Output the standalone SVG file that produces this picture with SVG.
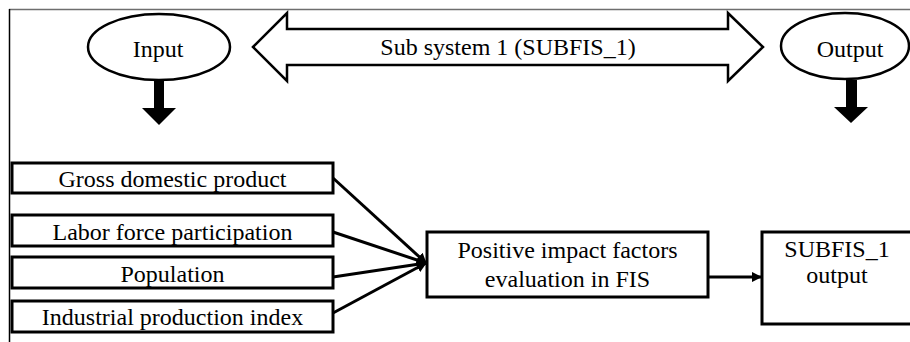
<svg xmlns="http://www.w3.org/2000/svg" width="910" height="342" viewBox="0 0 910 342">
  <style>
    text { font-family: "Liberation Serif", "DejaVu Serif", serif; font-size: 24px; fill: #000; text-anchor: middle; }
    .box { fill: #fff; stroke: #000; stroke-width: 3; }
    .oval { fill: #fff; stroke: #000; stroke-width: 2.5; }
    .link { fill: none; stroke: #000; stroke-width: 3; }
  </style>
  <defs>
    <marker id="head" viewBox="0 0 10 10" refX="9" refY="5" markerWidth="3.5" markerHeight="3.5" orient="auto" markerUnits="strokeWidth">
      <path d="M0,0 L10,5 L0,10 Z" fill="#000"/>
    </marker>
  </defs>

  <rect width="910" height="342" fill="#fff"/>

  <!-- frame -->
  <g id="frame">
    <line x1="9" y1="9.5" x2="910" y2="9.5" stroke="#6e6e6e" stroke-width="1.5"/>
    <line x1="9.5" y1="9" x2="9.5" y2="342" stroke="#000" stroke-width="1.5"/>
  </g>

  <!-- input oval with down arrow -->
  <g id="input">
    <path d="M154,80 H164 V108 H176 L159,125 L142,108 H154 Z" fill="#000"/>
    <ellipse class="oval" cx="159" cy="47" rx="71" ry="33"/>
    <text x="158" y="57" font-family="Liberation Serif, serif">Input</text>
  </g>

  <!-- output oval with down arrow -->
  <g id="output">
    <path d="M846,80 H857 V107 H868 L851,123 L834,107 H846 Z" fill="#000"/>
    <ellipse class="oval" cx="845" cy="46" rx="64" ry="33"/>
    <text x="850" y="57" font-family="Liberation Serif, serif">Output</text>
  </g>

  <!-- sub system double arrow -->
  <g id="subsystem">
    <polygon class="oval" points="253,47 287,13 287,29 728,29 728,13 763,47 728,81 728,65 287,65 287,81"/>
    <text x="508" y="55" font-family="Liberation Serif, serif">Sub system 1 (SUBFIS_1)</text>
  </g>

  <!-- input factors -->
  <g id="gdp">
    <rect class="box" x="12" y="163" width="321" height="30"/>
    <text x="172.5" y="187" font-family="Liberation Serif, serif">Gross domestic product</text>
  </g>
  <g id="labor">
    <rect class="box" x="12" y="215" width="321" height="31"/>
    <text x="172.5" y="240" font-family="Liberation Serif, serif">Labor force participation</text>
  </g>
  <g id="population">
    <rect class="box" x="12" y="257" width="321" height="31"/>
    <text x="172.5" y="282" font-family="Liberation Serif, serif">Population</text>
  </g>
  <g id="industrial">
    <rect class="box" x="12" y="301" width="321" height="31"/>
    <text x="172.5" y="325" font-family="Liberation Serif, serif">Industrial production index</text>
  </g>

  <!-- evaluation block -->
  <g id="evaluation">
    <rect class="box" x="427" y="232" width="281" height="65"/>
    <text x="567.5" y="258" font-family="Liberation Serif, serif">Positive impact factors</text>
    <text x="567.5" y="287" font-family="Liberation Serif, serif">evaluation in FIS</text>
  </g>

  <!-- sub system output block -->
  <g id="subfis-output">
    <rect class="box" x="762" y="232" width="152" height="92"/>
    <text x="837" y="257" font-family="Liberation Serif, serif">SUBFIS_1</text>
    <text x="837" y="283" font-family="Liberation Serif, serif">output</text>
  </g>

  <!-- connectors -->
  <g id="connectors">
    <line class="link" x1="333" y1="178" x2="426" y2="263" marker-end="url(#head)"/>
    <line class="link" x1="333" y1="232" x2="426" y2="263" marker-end="url(#head)"/>
    <line class="link" x1="333" y1="277" x2="426" y2="263" marker-end="url(#head)"/>
    <line class="link" x1="333" y1="313" x2="426" y2="263" marker-end="url(#head)"/>
    <line class="link" x1="708" y1="277" x2="761" y2="277" marker-end="url(#head)"/>
  </g>
</svg>
